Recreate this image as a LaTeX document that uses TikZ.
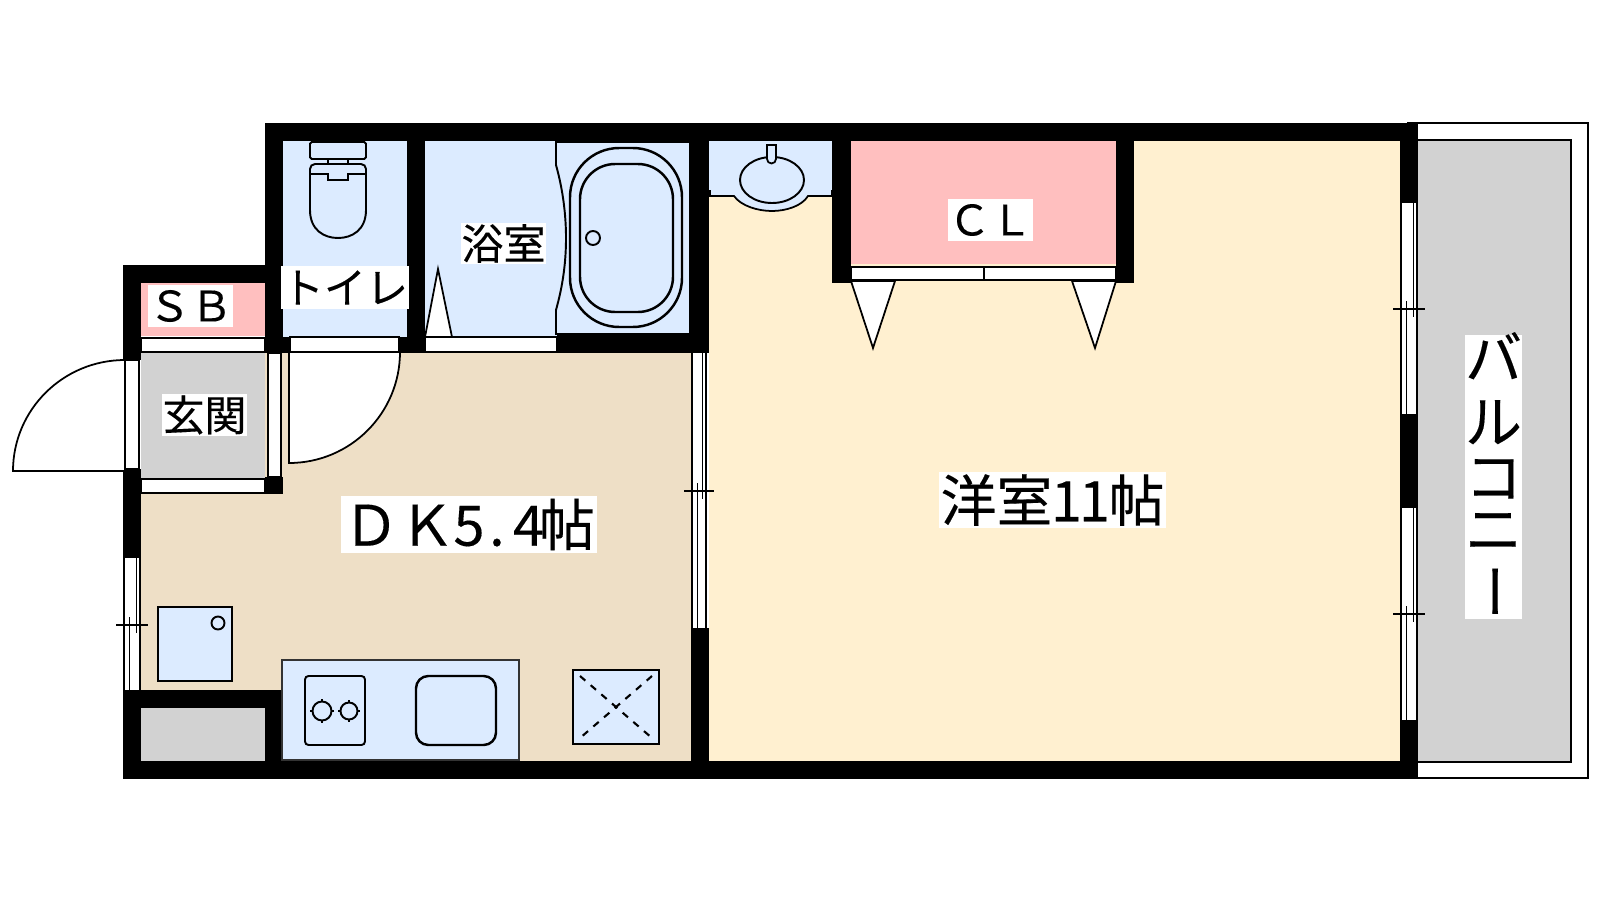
\documentclass[tikz,border=0pt]{standalone}
\usepackage{fontspec}
\setmainfont[FakeBold=0.25]{Noto Sans CJK JP}
\definecolor{cream}{HTML}{FFF0D0}
\definecolor{tan}{HTML}{EEDFC6}
\definecolor{skyb}{HTML}{DCEBFF}
\definecolor{pinkr}{HTML}{FFBFBF}
\definecolor{grayf}{HTML}{D2D2D2}
\newcommand{\hw}[1]{\makebox[7.97pt][c]{#1}}
\newcommand{\win}[5]{% x1 x2 y1 y2 ytick
  \fill[white] (#1,#3) rectangle (#2,#4);
  \draw[fix] (#1,#3) -- (#1,#4) (#2,#3) -- (#2,#4);
  \draw[fix] ({#2-3.5},#3) -- ({#2-3.5},{#5+8});
  \draw[fix] ({#1+5.5},{#5-8}) -- ({#1+5.5},#4);
  \draw[fix] ({#1-8},#5) -- ({#2+8},#5);
}
\tikzset{
  fix/.style={draw=black,line width=0.55pt},
  wall/.style={fill=black},
  strip/.style={fill=white,draw=black,line width=0.5pt},
  lab/.style={fill=white,inner sep=0pt,anchor=center,align=center},
  labs/.style={lab,font=\fontsize{11.95}{12}\selectfont},
  labl/.style={lab,font=\fontsize{15.9}{16}\selectfont},
}
\begin{document}
\begin{tikzpicture}[x=0.01cm,y=-0.01cm]
\useasboundingbox (0,0) rectangle (1600,900);
% balcony
\fill[white,draw=black,line width=0.55pt] (1408,123) rectangle (1588,778);
\fill[grayf,draw=black,line width=0.55pt] (1417,140) rectangle (1571,762);
% rooms
\fill[cream] (709,141) rectangle (1401,761);
\fill[tan] (141,353) rectangle (691,761);
\fill[skyb] (283,141) rectangle (407,337);
\fill[skyb] (425,141) rectangle (690,337);
\fill[pinkr] (141,283) rectangle (265,336);
\fill[grayf] (141,353) rectangle (265,478);
\fill[grayf] (141,708) rectangle (265,761);
\fill[pinkr] (851,141) rectangle (1116,264);
% wash basin area
\fill[skyb,draw=black,line width=0.5pt] (710,142) -- (832,142) -- (832,196) -- (808,196)
  .. controls (802,206) and (786,211) .. (772,211) .. controls (758,211) and (741,206) .. (734,196) -- (710,196) -- cycle;
\fill[skyb] (709,141) rectangle (832,190);
\draw[fix] (772,180) ellipse (32 and 23);
\fill[skyb,draw=black,line width=0.5pt] (767,145) -- (776,145) -- (776,159) arc (0:180:4.5) -- cycle;
% walls
\fill[wall] (265,123) rectangle (1418,141);
\fill[wall] (123,265) rectangle (283,283);
\fill[wall] (123,265) rectangle (141,360);
\fill[wall] (123,469) rectangle (141,558);
\fill[wall] (265,123) rectangle (283,353);
\fill[wall] (265,337) rectangle (290,353);
\fill[wall] (407,123) rectangle (425,353);
\fill[wall] (400,337) rectangle (425,353);
\fill[wall] (690,123) rectangle (709,353);
\fill[wall] (557,335) rectangle (709,353);
\fill[wall] (265,477) rectangle (283,494);
\fill[wall] (123,690) rectangle (282,708);
\fill[wall] (123,690) rectangle (141,779);
\fill[wall] (265,690) rectangle (282,779);
\fill[wall] (123,761) rectangle (1418,779);
\fill[wall] (691,628) rectangle (709,779);
\fill[wall] (832,123) rectangle (851,283);
\fill[wall] (1116,123) rectangle (1134,283);
\fill[wall] (1400,123) rectangle (1418,203);
\fill[wall] (1400,414) rectangle (1418,508);
\fill[wall] (1400,720) rectangle (1418,779);
% bath unit
\fill[skyb] (556,142) rectangle (690,334);
\draw[fix] (690,142) -- (556,142) -- (556,165) .. controls (563,190) and (566,215) .. (566,238)
  .. controls (566,262) and (563,285) .. (556,310) -- (556,334) -- (690,334) -- cycle;
\draw[fix,line width=0.7pt,rounded corners=14pt] (570,148) rectangle (682,327);
\draw[fix,line width=0.7pt,rounded corners=10pt] (580,164) rectangle (673,312);
\draw[fix] (593,238) circle (7);
% strips
\draw[strip] (141,338) rectangle (265,352);
\draw[strip] (141,479) rectangle (265,493);
\draw[strip] (268,353) rectangle (281,477);
\draw[strip] (290,337) rectangle (399,352);
\draw[strip] (425,337) rectangle (557,352);
\draw[strip] (125,360) rectangle (139,469);
% CL doors
\draw[strip] (851,267) rectangle (984,280);
\draw[strip] (984,267) rectangle (1116,280);
\draw[strip] (851,281) -- (873,348) -- (895,281) -- cycle;
\draw[strip] (1072,281) -- (1095,348) -- (1116,281) -- cycle;
% bath door
\draw[strip] (425,337) -- (438,269) -- (452,337) -- cycle;
% room doors
\draw[strip] (289,352) -- (289,463) arc (90:0:111) -- cycle;
\draw[strip] (125,471) -- (125,360) arc (-90:-180:112 and 111) -- cycle;
% toilet
\draw[fix,rounded corners=0.5pt] (310,142) rectangle (366,159);
\draw[fix] (328,159) -- (328,164) (348,159) -- (348,164);
\draw[fix] (310,174) -- (310,169) arc (180:270:5) -- (361,164) arc (270:360:5) -- (366,210)
  .. controls (366,230) and (352,238) .. (338,238) .. controls (324,238) and (310,230) .. (310,210) -- (310,174);
\draw[fix] (310,174) -- (328,174) -- (328,180) -- (348,180) -- (348,174) -- (366,174);
% fridge
\fill[skyb,draw=black,line width=0.6pt] (158,607) rectangle (232,681);
\draw[fix] (218,623) circle (6.5);
% counter
\fill[skyb,draw=black!80,line width=0.5pt] (282,660) rectangle (519,760);
\draw[fix,rounded corners=1pt] (305,676) rectangle (365,745);
\draw[fix] (322,699) -- (322,723) (310,711) -- (334,711);
\draw[fix,fill=skyb] (322,711) circle (9.5);
\draw[fix] (349,700) -- (349,722) (338,711) -- (360,711);
\draw[fix,fill=skyb] (349,711) circle (8.5);
\draw[fix,line width=0.7pt,rounded corners=3.5pt] (416,676) rectangle (496,745);
% pan
\fill[skyb,draw=black,line width=0.6pt] (573,670) rectangle (659,744);
\draw[fix,dash pattern=on 2pt off 2pt,line width=0.6pt] (580,676) -- (652,738) (652,676) -- (580,738);
% windows
\win{692}{706}{353}{628}{491}
\win{124}{140}{558}{690}{625}
\win{1401}{1417}{203}{414}{309}
\win{1401}{1417}{508}{720}{614}
% labels
\node[labs,minimum width=85*0.2845pt,minimum height=42*0.2845pt] (sb) at (190.5,306) {ＳＢ};
\node[labs,minimum width=128*0.2845pt,minimum height=43*0.2845pt] (toilet) at (345,287.5) {トイレ};
\node[labs,minimum width=85*0.2845pt,minimum height=42*0.2845pt] (genkan) at (204.5,415) {玄関};
\node[labs,minimum width=85*0.2845pt,minimum height=41*0.2845pt] (bath) at (503.5,243.5) {浴室};
\node[labs,minimum width=85*0.2845pt,minimum height=42*0.2845pt] (cl) at (990.5,220) {ＣＬ};
\node[labl,minimum width=256*0.2845pt,minimum height=57*0.2845pt] (dk) at (469,524.5) {ＤＫ\hw{5}\hw{.}\kern1pt\hw{4}\kern-1pt帖};
\node[labl,minimum width=227*0.2845pt,minimum height=56*0.2845pt] (yo) at (1052.5,500) {洋室\hw{1}\hw{1}帖};
\node[lab,font=\fontsize{16.2}{16.5}\selectfont,minimum width=57*0.2845pt,minimum height=284*0.2845pt] (bal) at (1493.5,477) {\raisebox{-1.1pt}[11pt][3pt]{バ}\\[0pt]\raisebox{-2.8pt}[11pt][3pt]{ル}\\\raisebox{-2pt}[11pt][3pt]{コ}\\\raisebox{-0.3pt}[11pt][3pt]{ニ}\\\raisebox{1pt}[11pt][3pt]{\rotatebox[origin=c]{-90}{ー}\kern4.5pt}};
\end{tikzpicture}
\end{document}
